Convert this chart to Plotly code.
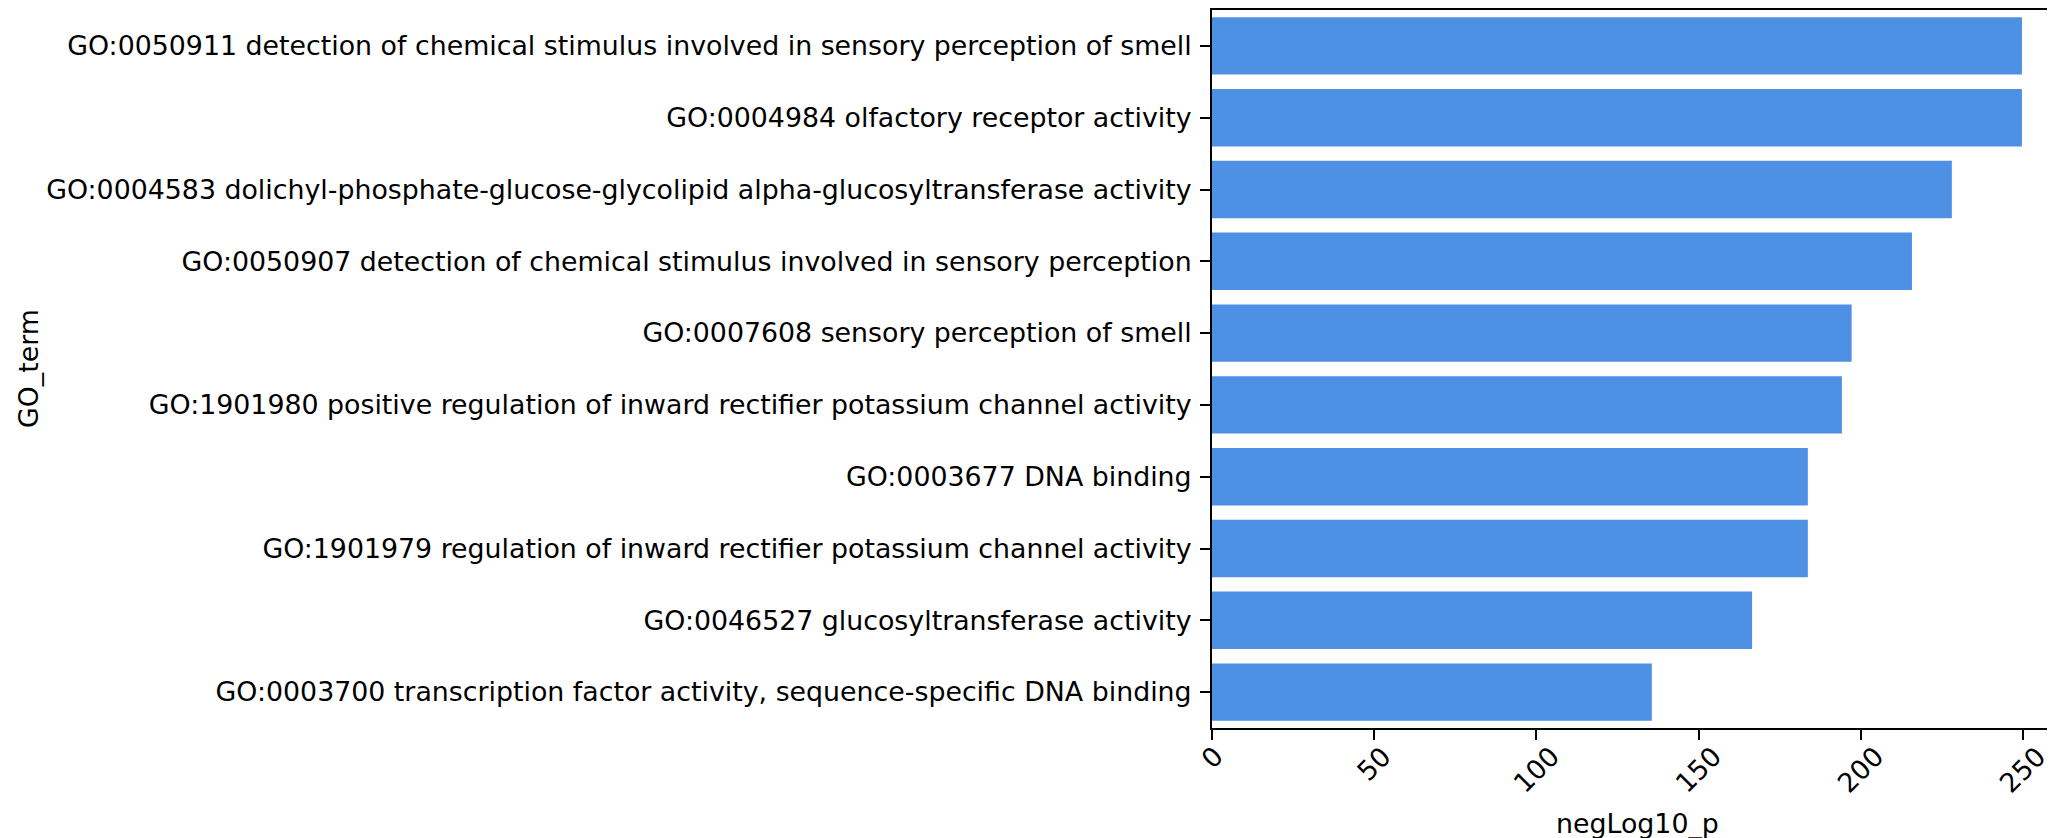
import plotly.graph_objects as go

# GO terms, top to bottom
go_terms = [
    "GO:0050911 detection of chemical stimulus involved in sensory perception of smell",
    "GO:0004984 olfactory receptor activity",
    "GO:0004583 dolichyl-phosphate-glucose-glycolipid alpha-glucosyltransferase activity",
    "GO:0050907 detection of chemical stimulus involved in sensory perception",
    "GO:0007608 sensory perception of smell",
    "GO:1901980 positive regulation of inward rectifier potassium channel activity",
    "GO:0003677 DNA binding",
    "GO:1901979 regulation of inward rectifier potassium channel activity",
    "GO:0046527 glucosyltransferase activity",
    "GO:0003700 transcription factor activity, sequence-specific DNA binding",
]
neg_log10_p = [249.7, 249.7, 228.1, 215.8, 197.2, 194.2, 183.7, 183.7, 166.5, 135.6]
x_ticks = [0, 50, 100, 150, 200, 250]

font = "DejaVu Sans"
fsize = 26.8

fig = go.Figure()
fig.add_trace(go.Bar(
    x=neg_log10_p, y=go_terms, orientation="h",
    marker=dict(color="#4e90e3", line=dict(width=0)),
))

# rotated tick labels, centred under the tick like matplotlib
for t in x_ticks:
    fig.add_annotation(x=t, y=-0.0139, xref="x", yref="paper", text=str(t),
                       textangle=-45, showarrow=False, xanchor="center", yanchor="top",
                       font=dict(family=font, size=fsize, color="black"))

fig.add_annotation(x=0.5049, y=-0.1333, xref="paper", yref="paper", text="negLog10_p",
                   showarrow=False, xanchor="center", yanchor="middle",
                   font=dict(family=font, size=fsize, color="black"))
fig.add_annotation(x=-1.4045, y=0.5, xref="paper", yref="paper", text="GO_term",
                   textangle=-90, showarrow=False, xanchor="center", yanchor="middle",
                   font=dict(family=font, size=fsize, color="black"))

# page body has an 8px margin, so the figure is shifted by 8px
fig.update_layout(
    width=2047, height=830,
    margin=dict(l=1204, r=0, t=0, b=110),
    plot_bgcolor="white", paper_bgcolor="white",
    bargap=0.2, showlegend=False,
    font=dict(family=font, size=fsize, color="black"),
)
fig.update_xaxes(range=[0, 259.9], tickvals=x_ticks, showticklabels=False,
                 ticks="outside", ticklen=10, tickwidth=2, tickcolor="black",
                 showline=True, linecolor="black", linewidth=2, mirror=True,
                 showgrid=False, zeroline=False)
fig.update_yaxes(range=[9.5, -0.5], ticks="outside", ticklen=10, tickwidth=2,
                 tickcolor="black", showline=True, linecolor="black", linewidth=2,
                 showgrid=False, zeroline=False, ticklabelstandoff=3,
                 tickfont=dict(family=font, size=fsize, color="black"))

fig.write_html("out.html")
